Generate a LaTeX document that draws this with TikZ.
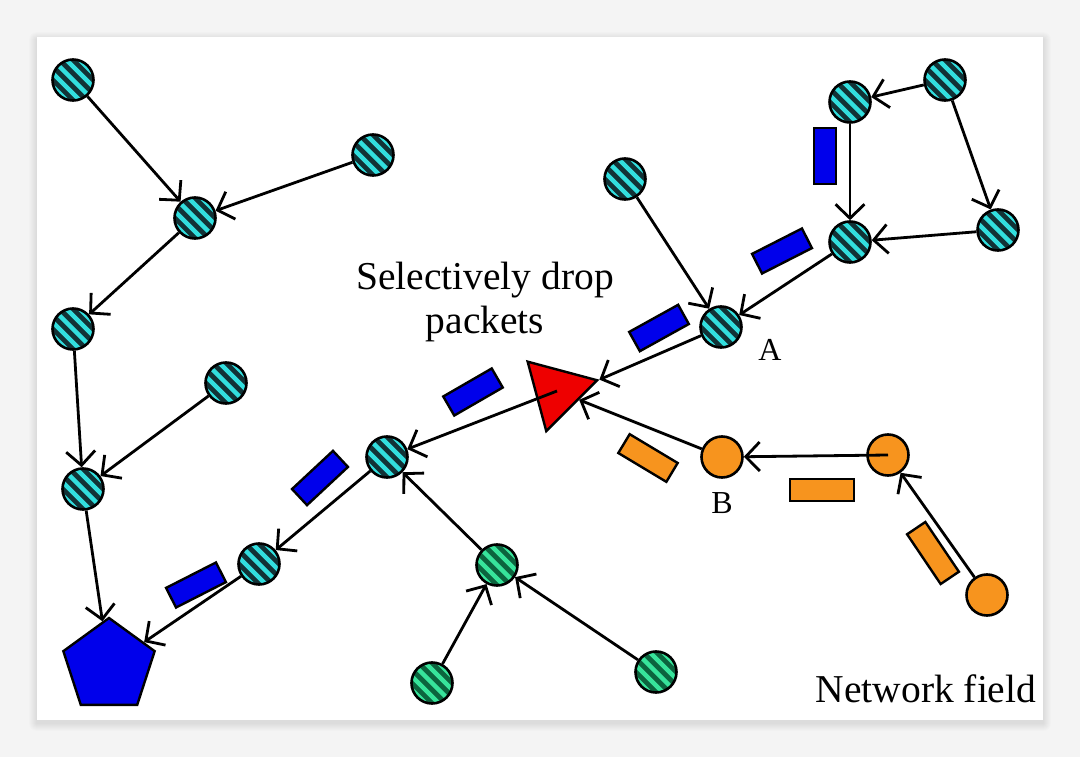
\documentclass[tikz,border=0pt]{standalone}
\usepackage{fontspec}
\setmainfont{Liberation Serif}
\usetikzlibrary{arrows.meta,shapes.geometric,calc}
\definecolor{cyanlt}{RGB}{50,222,222}
\definecolor{cyandk}{RGB}{18,50,54}
\definecolor{greenlt}{RGB}{55,228,155}
\definecolor{greendk}{RGB}{12,100,62}
\definecolor{orng}{RGB}{247,148,30}
\definecolor{pktblue}{RGB}{0,0,235}
\definecolor{trired}{RGB}{238,0,0}
\definecolor{bggray}{RGB}{244,244,244}
\tikzset{
  striped/.style 2 args={circle, draw=black, line width=2.6pt, minimum size=41pt, inner sep=0pt, fill=#1,
    path picture={
      \foreach \k in {-3,...,3}{
        \draw[#2, line width=4.4pt]
          ([shift={(\k*6.7pt-26pt,\k*6.7pt+26pt)}]path picture bounding box.center) --
          ([shift={(\k*6.7pt+26pt,\k*6.7pt-26pt)}]path picture bounding box.center);
      }}},
  cnode/.style={striped={cyandk}{cyanlt}},
  gnode/.style={striped={greendk}{greenlt}},
  onode/.style={circle, draw=black, line width=2.6pt, minimum size=41pt, inner sep=0pt, fill=orng},
  pkt/.style={draw=black, line width=2.4pt, minimum width=56pt, minimum height=22pt, inner sep=0pt},
  bpkt/.style={pkt, fill=pktblue},
  opkt/.style={pkt, fill=orng},
  link/.style={line width=2.8pt, -{Straight Barb[length=14pt,width=29pt,line width=2.8pt]}},
  lbl/.style={font=\fontsize{39.5}{44}\selectfont, text=black, inner sep=0pt},
  small/.style={font=\fontsize{32}{36}\selectfont, text=black, inner sep=0pt}
}
\begin{document}
\begin{tikzpicture}[x=1pt,y=-1pt]
  % background and panel
  \fill[bggray] (0,0) rectangle (1080,757);
  \foreach \i in {1,...,8}{
    \fill[black, opacity=0.012, rounded corners=\i pt] (37-\i,37-\i+3) rectangle (1043+\i,720+\i+3);
  }
  \fill[white] (37,37) rectangle (1043,720);
  \useasboundingbox (0,0) rectangle (1080,757);

  % nodes
  \node[cnode] (N1) at (73,80) {};
  \node[cnode] (N2) at (195,218) {};
  \node[cnode] (N3) at (373,155) {};
  \node[cnode] (N4) at (73,329) {};
  \node[cnode] (N5) at (226,383) {};
  \node[cnode] (N6) at (83,489) {};
  \node[regular polygon, regular polygon sides=5, minimum size=96pt, inner sep=0pt,
        draw=black, line width=2.4pt, fill=pktblue] (P) at (109,666) {};
  \node[cnode] (N7) at (259,564) {};
  \node[cnode] (N8) at (387,457) {};
  \node[gnode] (G1) at (497,565) {};
  \node[gnode] (G2) at (432,683) {};
  \node[gnode] (G3) at (656,672) {};
  \node[regular polygon, regular polygon sides=3, minimum size=83pt, inner sep=0pt,
        draw=black, line width=2.4pt, fill=trired, rotate=-75] (T) at (557,391) {};
  \node[cnode] (A) at (721,327) {};
  \node[cnode] (N9) at (625,179) {};
  \node[cnode] (N10) at (850,242) {};
  \node[cnode] (N11) at (850,102) {};
  \node[cnode] (N12) at (945,80) {};
  \node[cnode] (N13) at (998,230) {};
  \node[onode] (B) at (722,457) {};
  \node[onode] (O2) at (888,455) {};
  \node[onode] (O3) at (987,595) {};

  % packets
  \node[bpkt, rotate=90] (p1) at (825,156) {};
  \node[bpkt, rotate=27] (p2) at (782,251) {};
  \node[bpkt, rotate=29] (p3) at (659,328) {};
  \node[bpkt, rotate=30] (p4) at (473,392) {};
  \node[bpkt, rotate=43] (p5) at (320,478) {};
  \node[bpkt, rotate=27] (p6) at (196,585) {};
  \node[opkt, rotate=-31] (q1) at (648,458) {};
  \node[opkt, minimum width=64pt] (q2) at (822,490) {};
  \node[opkt, rotate=-56, minimum width=60pt] (q3) at (933,553) {};

  % connectors
  \draw[link] (N1) -- (N2);
  \draw[link] (N3) -- (N2);
  \draw[link] (N2) -- (N4);
  \draw[link] (N4) -- (N6);
  \draw[link] (N5) -- (N6);
  \draw[link] (N6) -- (P);
  \draw[link] (N7) -- (P);
  \draw[link] (N8) -- (N7);
  \draw[link] (G1) -- (N8);
  \draw[link] (G2) -- (G1);
  \draw[link] (G3) -- (G1);
  \draw[link] (T.center) -- (N8);
  \draw[link] (A) -- (T.corner 1);
  \draw[link] (N9) -- (A);
  \draw[link] (N10) -- (A);
  \draw[link] (N11) -- (N10);
  \draw[link] (N12) -- (N11);
  \draw[link] (N12) -- (N13);
  \draw[link] (N13) -- (N10);
  \draw[link] (B) -- (T);
  \draw[link] (O2.center) -- (B);
  \draw[link] (O3) -- (O2);

  % labels
  \node[lbl, anchor=base, align=center] (txt1) at (485,333) {Selectively drop\\packets};
  \node[lbl, anchor=base] (txt2) at (926,702) {Network field};
  \node[small, anchor=base] (la) at (770,360) {A};
  \node[small, anchor=base] (lb) at (722,513) {B};
\end{tikzpicture}
\end{document}
